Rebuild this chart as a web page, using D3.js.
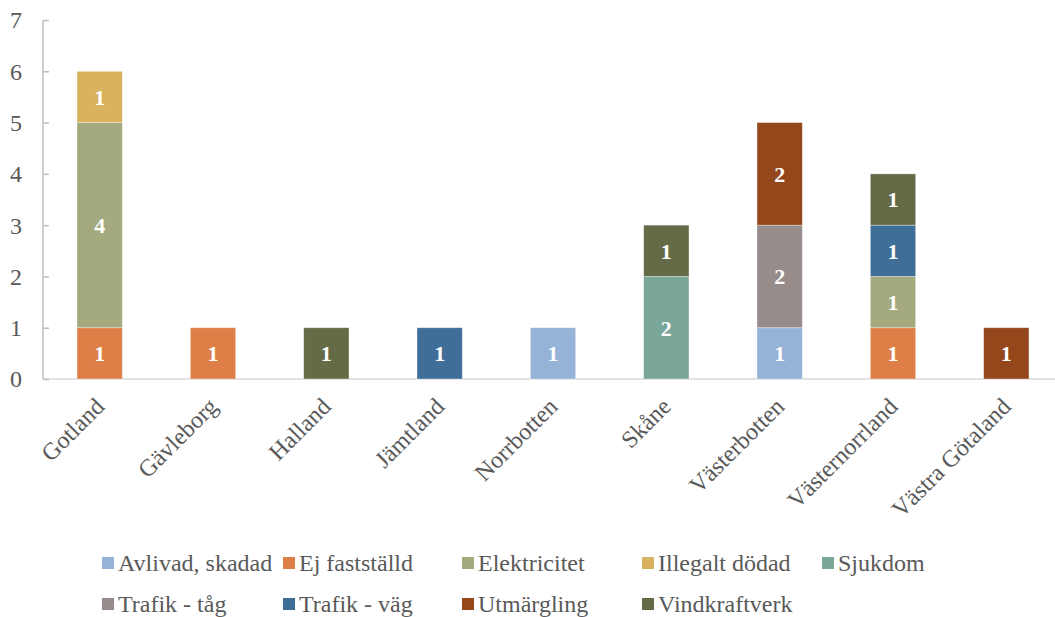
<!DOCTYPE html>
<html><head><meta charset="utf-8">
<script src="https://cdn.jsdelivr.net/npm/d3@7"></script>
<style>body{margin:0;background:#fff}svg{display:block}
.serif{font-family:"Liberation Serif","Tinos","Times New Roman","DejaVu Serif",serif}</style>
</head><body>
<svg id="c" width="1055" height="617"></svg>
<script>
const categories = ["Gotland","Gävleborg","Halland","Jämtland","Norrbotten","Skåne","Västerbotten","Västernorrland","Västra Götaland"];
const seriesNames = ["Avlivad, skadad","Ej fastställd","Elektricitet","Illegalt dödad","Sjukdom","Trafik - tåg","Trafik - väg","Utmärgling","Vindkraftverk"];
const avlivad      = [0,0,0,0,1,0,1,0,0];
const ejFaststalld = [1,1,0,0,0,0,0,1,0];
const elektricitet = [4,0,0,0,0,0,0,1,0];
const illegalt     = [1,0,0,0,0,0,0,0,0];
const sjukdom      = [0,0,0,0,0,2,0,0,0];
const trafikTag    = [0,0,0,0,0,0,2,0,0];
const trafikVag    = [0,0,0,1,0,0,0,1,0];
const utmargling   = [0,0,0,0,0,0,2,0,1];
const vindkraft    = [0,0,1,0,0,1,0,1,0];
const yTicks = [0,1,2,3,4,5,6,7];
const colors = ["#95b3d7","#de7f48","#a4aa7e","#d8b25c","#7ba69a","#968c8a","#3f6e98","#93471b","#656b47"];

const seriesValues = [avlivad,ejFaststalld,elektricitet,illegalt,sjukdom,trafikTag,trafikVag,utmargling,vindkraft];
const table = categories.map((c,i)=>{const o={cat:c}; seriesNames.forEach((s,j)=>o[s]=seriesValues[j][i]); return o;});
const stacked = d3.stack().keys(seriesNames)(table);

const svg = d3.select("#c");
const x = d3.scaleBand().domain(categories).range([43,1063]).paddingInner(0.6).paddingOuter(0.3);
const y = d3.scaleLinear().domain([0,7]).range([379,20]);
const color = d3.scaleOrdinal().domain(seriesNames).range(colors);

svg.append("line").attr("x1",43).attr("x2",1055).attr("y1",y(0)).attr("y2",y(0))
  .attr("stroke","#d9d9d9").attr("stroke-width",1.5);

const g = svg.append("g");
stacked.forEach(layer=>{
  const key = layer.key;
  layer.forEach((d,i)=>{
    if (d[1]-d[0] <= 0) return;
    const cx = x(categories[i]);
    g.append("rect").attr("x",cx).attr("width",x.bandwidth())
      .attr("y",y(d[1])).attr("height",y(d[0])-y(d[1]))
      .attr("fill",color(key)).attr("stroke","#ffffff").attr("stroke-opacity",0.45).attr("stroke-width",0.8);
    g.append("text").attr("class","serif").attr("x",cx+x.bandwidth()/2).attr("y",(y(d[0])+y(d[1]))/2)
      .attr("dy","0.36em").attr("text-anchor","middle")
      .attr("fill","#fff").attr("font-weight","bold").attr("font-size",22)
      .text(d[1]-d[0]);
  });
});

const yAxis = svg.append("g").attr("transform","translate(43,0)")
  .call(d3.axisLeft(y).tickValues(yTicks).tickSize(-6).tickFormat(d3.format("d")));
yAxis.select(".domain").attr("stroke","#bfbfbf").attr("stroke-width",1.5).attr("d","M0,"+y(7)+"V"+y(0));
yAxis.selectAll(".tick line").attr("stroke","#bfbfbf").attr("stroke-width",1.5);
yAxis.selectAll(".tick text").attr("class","serif").attr("fill","#595959").attr("font-size",24)
  .attr("x",-21).attr("dy","0.33em").attr("text-anchor","end");

svg.append("g").selectAll("text").data(categories).join("text").attr("class","serif")
  .attr("transform",d=>`translate(${x(d)+x.bandwidth()/2+6},${y(0)+29}) rotate(-45)`)
  .attr("text-anchor","end").attr("fill","#595959").attr("font-size",24)
  .text(d=>d);

const legendX = [102,283,462,642,822];
const legendY = [563,604];
const leg = svg.append("g");
seriesNames.forEach((s,i)=>{
  const row = i<5?0:1, col = i<5?i:i-5;
  const lx = legendX[col], ly = legendY[row];
  leg.append("rect").attr("x",lx).attr("y",ly-6).attr("width",12).attr("height",12).attr("fill",color(s));
  leg.append("text").attr("class","serif").attr("x",lx+16).attr("y",ly).attr("dy","0.33em")
    .attr("fill","#595959").attr("font-size",24).text(s);
});
</script>
</body></html>
